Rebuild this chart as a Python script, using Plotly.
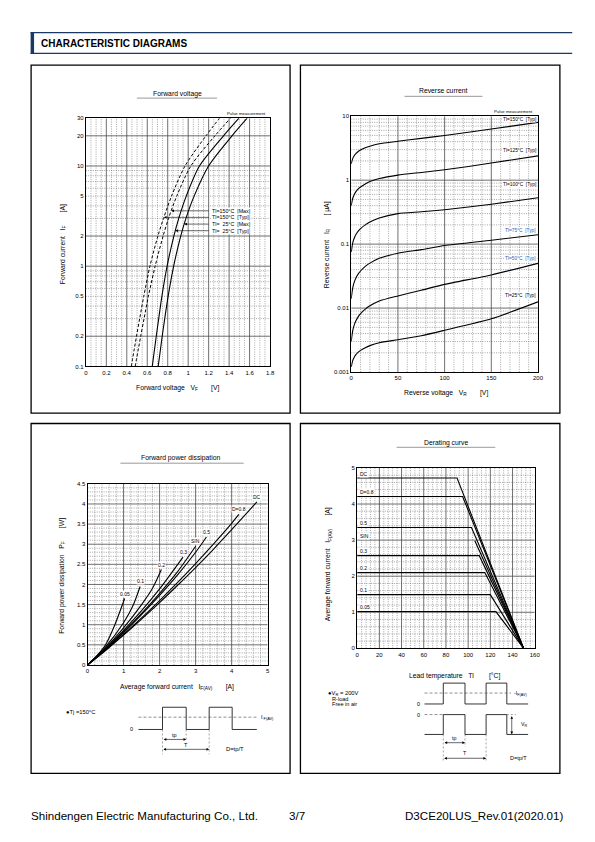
import numpy as np
import plotly.graph_objects as go

W, H = 595, 842
FONT = "Liberation Sans"
NAVY = "#1b3a63"

# ---------------- data ----------------
# Forward voltage: forward current IF [A] vs forward voltage VF [V]
fv_current = [0.1, 0.2, 0.3, 0.5, 1, 2, 3, 5, 10, 20, 30]
fv_150_typ = [0.444, 0.495, 0.526, 0.566, 0.626, 0.704, 0.759, 0.837, 0.969, 1.174, 1.306]
fv_150_max = [0.482, 0.536, 0.569, 0.611, 0.677, 0.755, 0.808, 0.888, 1.026, 1.261, 1.414]
fv_25_typ = [0.649, 0.688, 0.712, 0.743, 0.794, 0.860, 0.908, 0.981, 1.110, 1.345, 1.496]
fv_25_max = [0.707, 0.746, 0.771, 0.804, 0.858, 0.927, 0.978, 1.058, 1.199, 1.428, 1.576]
fv_labels = ["Tl=150°C  [Max]", "Tl=150°C  [Typ]", "Tl=  25°C  [Max]", "Tl=  25°C  [Typ]"]
fv_label_current = [3.57, 3.07, 2.63, 2.26]
fv_xticks = [0, 0.2, 0.4, 0.6, 0.8, 1.0, 1.2, 1.4, 1.6, 1.8]
fv_xticktext = ["0", "0.2", "0.4", "0.6", "0.8", "1", "1.2", "1.4", "1.6", "1.8"]
fv_yticks = [0.1, 0.2, 0.5, 1, 2, 5, 10, 20, 30]
fv_yticktext = ["0.1", "0.2", "0.5", "1", "2", "5", "10", "20", "30"]

# Reverse current: IR [uA] vs VR [V]
rc_voltage = [0, 1, 2, 3.5, 5, 7.5, 10, 15, 20, 30, 50, 75, 100, 150, 200]
rc_150 = [1.8, 2.05, 2.25, 2.45, 2.6, 2.8, 2.95, 3.2, 3.4, 3.7, 4.05, 4.5, 5.0, 6.3, 8.0]
rc_125 = [0.4, 0.48, 0.54, 0.61, 0.66, 0.73, 0.78, 0.87, 0.95, 1.06, 1.2, 1.32, 1.45, 1.85, 2.4]
rc_100 = [0.075, 0.094, 0.11, 0.127, 0.141, 0.16, 0.175, 0.2, 0.222, 0.257, 0.30, 0.32, 0.345, 0.42, 0.53]
rc_75 = [0.014, 0.0182, 0.022, 0.0261, 0.0295, 0.0342, 0.038, 0.0448, 0.0505, 0.060, 0.072, 0.082, 0.095, 0.115, 0.14]
rc_50 = [0.003, 0.00392, 0.00472, 0.00561, 0.00633, 0.00734, 0.00818, 0.00962, 0.01086, 0.0129, 0.0155, 0.019, 0.0235, 0.033, 0.05]
rc_25 = [0.0012, 0.00141, 0.00157, 0.00174, 0.00187, 0.00205, 0.00218, 0.0024, 0.00259, 0.00287, 0.0032, 0.0037, 0.0045, 0.0068, 0.0125]
rc_labels = ["Tl=150°C  [Typ]", "Tl=125°C  [Typ]", "Tl=100°C  [Typ]",
             "Tl=75°C  [Typ]", "Tl=50°C  [Typ]", "Tl=25°C  [Typ]"]
rc_xticks = [0, 50, 100, 150, 200]
rc_yticks = [0.001, 0.01, 0.1, 1, 10]
rc_yticktext = ["0.001", "0.01", "0.1", "1", "10"]

# Forward power dissipation: PF [W] vs IF(AV) [A]
pd_labels = ["0.05", "0.1", "0.2", "0.3", "SIN", "0.5", "D=0.8", "DC"]
pd_i_005 = [0, 0.25, 0.5, 0.75, 1.03]
pd_p_005 = [0, 0.22, 0.5, 0.98, 1.65]
pd_i_01 = [0, 0.5, 1, 1.25, 1.46]
pd_p_01 = [0, 0.45, 1.05, 1.45, 1.95]
pd_i_02 = [0, 0.5, 1, 1.5, 1.8, 2.05]
pd_p_02 = [0, 0.42, 0.92, 1.5, 1.9, 2.37]
pd_i_03 = [0, 0.5, 1, 1.5, 2, 2.65]
pd_p_03 = [0, 0.4, 0.86, 1.35, 1.89, 2.68]
pd_i_sin = [0, 0.5, 1, 1.5, 2, 2.5, 3]
pd_p_sin = [0, 0.39, 0.82, 1.28, 1.78, 2.32, 2.95]
pd_i_05 = [0, 0.5, 1, 1.5, 2, 2.5, 3, 3.3]
pd_p_05 = [0, 0.38, 0.8, 1.25, 1.73, 2.24, 2.8, 3.18]
pd_i_08 = [0, 0.5, 1, 1.5, 2, 2.5, 3, 3.5, 4, 4.2]
pd_p_08 = [0, 0.37, 0.76, 1.17, 1.60, 2.05, 2.52, 3.01, 3.52, 3.74]
pd_i_dc = [0, 0.5, 1, 1.5, 2, 2.5, 3, 3.5, 4, 4.7]
pd_p_dc = [0, 0.36, 0.74, 1.14, 1.55, 1.98, 2.42, 2.88, 3.36, 4.05]
pd_xticks = [0, 1, 2, 3, 4, 5]
pd_yticks = [0, 0.5, 1, 1.5, 2, 2.5, 3, 3.5, 4, 4.5]
pd_yticktext = ["0", "0.5", "1", "1.5", "2", "2.5", "3", "3.5", "4", "4.5"]

# Derating curve: IF(AV) [A] vs lead temperature Tl [°C]
dr_labels = ["DC", "D=0.8", "0.5", "SIN", "0.3", "0.2", "0.1", "0.05"]
dr_level = [4.72, 4.21, 3.35, 2.98, 2.57, 2.10, 1.49, 1.02]
dr_knee = [90, 95, 103, 106, 110, 115, 120, 125]
dr_flat_drawn = [True, True, True, False, True, True, True, True]
dr_zero_temp = 150
dr_xticks = [0, 20, 40, 60, 80, 100, 120, 140, 160]
dr_yticks = [0, 1, 2, 3, 4, 5]


# ---------------- helpers ----------------
def PX(x):
    return x / W


def PY(y):
    return 1 - y / H


fig = go.Figure()
annotations = []
shapes = []


def grid(xa, ya, xs, ys, xr, yr, major):
    x, y = [], []
    for v in xs:
        x += [v, v, None]
        y += [yr[0], yr[1], None]
    for v in ys:
        x += [xr[0], xr[1], None]
        y += [v, v, None]
    if major:
        st = dict(color="#4a4a4a", width=0.8)
    else:
        st = dict(color="#6a6a6a", width=0.6, dash="1px,1.3px")
    fig.add_trace(go.Scatter(x=x, y=y, mode="lines", line=st, xaxis=xa, yaxis=ya,
                             hoverinfo="skip", showlegend=False))


def curve(xa, ya, x, y, dash=None, shape="spline", width=1.1, smoothing=0.8):
    ln = dict(color="black", width=width, shape=shape)
    if shape == "spline":
        ln["smoothing"] = smoothing
    if dash:
        ln["dash"] = dash
    fig.add_trace(go.Scatter(x=x, y=y, mode="lines", line=ln, xaxis=xa, yaxis=ya,
                             hoverinfo="skip", showlegend=False))


def text(x, y, s, size=6, xanchor="center", yanchor="middle", angle=0, bold=False,
         color="black", bg=None):
    a = dict(x=PX(x), y=PY(y), xref="paper", yref="paper", text=("<b>%s</b>" % s if bold else s),
             showarrow=False, xanchor=xanchor, yanchor=yanchor, textangle=angle,
             font=dict(family=FONT, size=size, color=color))
    if bg:
        a["bgcolor"] = bg
        a["borderpad"] = 0
    annotations.append(a)


def line(x0, y0, x1, y1, width=0.8, dash=None, color="black"):
    ln = dict(color=color, width=width)
    if dash:
        ln["dash"] = dash
    shapes.append(dict(type="line", xref="paper", yref="paper", x0=PX(x0), y0=PY(y0),
                       x1=PX(x1), y1=PY(y1), line=ln))


def path(pts, width=0.8, color="black"):
    d = "M " + " L ".join("%.5f,%.5f" % (PX(a), PY(b)) for a, b in pts)
    shapes.append(dict(type="path", xref="paper", yref="paper", path=d,
                       line=dict(color=color, width=width)))


def arrow(x0, y0, x1, y1, both=True):
    # arrow head at (x1, y1), tail at (x0, y0) in page pixels
    annotations.append(dict(x=PX(x1), y=PY(y1), xref="paper", yref="paper", text="",
                            showarrow=True, ax=x0 - x1, ay=y0 - y1, arrowhead=2,
                            arrowsize=0.9, arrowwidth=0.6, arrowcolor="black",
                            arrowside="end+start" if both else "end", standoff=0,
                            startstandoff=0))


def axis(domain, rng, tickvals, ticktext, anchor, log=False):
    d = dict(domain=domain, range=rng, tickmode="array", tickvals=tickvals,
             ticktext=ticktext, anchor=anchor, showline=True, linecolor="black",
             linewidth=1, mirror=True, showgrid=False, zeroline=False, ticks="",
             tickfont=dict(family=FONT, size=6, color="black"), fixedrange=True)
    if log:
        d["type"] = "log"
    return d


# ---------------- chart 1: forward voltage ----------------
maj_x = [0.2, 0.4, 0.6, 0.8, 1.0, 1.2, 1.4, 1.6]
min_x = [round(i * 0.05, 3) for i in range(1, 36) if i % 4]
maj_y = [0.2, 1, 2, 10, 20]
min_y = [m * 10 ** e for e in (-1, 0, 1) for m in (3, 4, 5, 6, 7, 8, 9) if m * 10 ** e < 30]
grid("x", "y", min_x, min_y, [0, 1.8], [0.1, 30], False)
grid("x", "y", maj_x, maj_y, [0, 1.8], [0.1, 30], True)
curve("x", "y", fv_150_typ, fv_current, dash="3px,2px", width=1.0)
curve("x", "y", fv_150_max, fv_current, dash="3px,2px", width=1.0)
curve("x", "y", fv_25_typ, fv_current)
curve("x", "y", fv_25_max, fv_current)

fv_curves = [fv_150_max, fv_150_typ, fv_25_max, fv_25_typ]
lc = np.log10(fv_current)
for lab, cur, vf in zip(fv_labels, fv_label_current, fv_curves):
    head = float(np.interp(np.log10(cur), lc, vf))
    annotations.append(dict(x=head, y=float(np.log10(cur)), xref="x", yref="y", axref="x",
                            ayref="y", ax=1.215, ay=float(np.log10(cur)), text="",
                            showarrow=True, arrowhead=2, arrowsize=0.9, arrowwidth=0.6,
                            arrowcolor="black", standoff=0))
    annotations.append(dict(x=1.222, y=float(np.log10(cur)), xref="x", yref="y", text=lab,
                            showarrow=False, xanchor="left", yanchor="middle",
                            font=dict(family=FONT, size=5.3, color="black"),
                            bgcolor="white", borderpad=0))

# ---------------- chart 2: reverse current ----------------
grid("x2", "y2", [v for v in range(10, 200, 10) if v % 50],
     [m * 10 ** e for e in range(-3, 1) for m in range(2, 10)], [0, 200], [0.001, 10], False)
grid("x2", "y2", [50, 100, 150], [0.01, 0.1, 1], [0, 200], [0.001, 10], True)
for ser in (rc_150, rc_125, rc_100, rc_75, rc_50, rc_25):
    curve("x2", "y2", rc_voltage, ser, smoothing=0.6)

# ---------------- chart 3: forward power dissipation ----------------
grid("x3", "y3", [round(i * 0.2, 2) for i in range(1, 25) if i % 5],
     [round(i * 0.1, 2) for i in range(1, 45) if i % 5], [0, 5], [0, 4.5], False)
grid("x3", "y3", [1, 2, 3, 4], [0.5, 1, 1.5, 2, 2.5, 3, 3.5, 4], [0, 5], [0, 4.5], True)
pd_series = [(pd_i_005, pd_p_005), (pd_i_01, pd_p_01), (pd_i_02, pd_p_02), (pd_i_03, pd_p_03),
             (pd_i_sin, pd_p_sin), (pd_i_05, pd_p_05), (pd_i_08, pd_p_08), (pd_i_dc, pd_p_dc)]
for lab, (xi, yp) in zip(pd_labels, pd_series):
    curve("x3", "y3", xi, yp)
    annotations.append(dict(x=xi[-1], y=yp[-1], xref="x3", yref="y3", text=lab,
                            showarrow=False, xanchor="center", yanchor="bottom", yshift=1,
                            font=dict(family=FONT, size=5, color="black"),
                            bgcolor="white", borderpad=0))

# ---------------- chart 4: derating ----------------
grid("x4", "y4", [v for v in range(4, 160, 4) if v % 20],
     [round(i * 0.2, 2) for i in range(1, 25) if i % 5], [0, 160], [0, 5], False)
grid("x4", "y4", [20, 40, 60, 80, 100, 120, 140], [1, 2, 3, 4], [0, 160], [0, 5], True)
for lab, lev, kn, flat in zip(dr_labels, dr_level, dr_knee, dr_flat_drawn):
    if flat:
        curve("x4", "y4", [0, kn, dr_zero_temp], [lev, lev, 0], shape="linear")
    else:
        curve("x4", "y4", [kn, dr_zero_temp], [lev, 0], shape="linear")
    annotations.append(dict(x=1.5, y=lev, xref="x4", yref="y4", text=lab, showarrow=False,
                            xanchor="left", yanchor="bottom", yshift=0.5,
                            font=dict(family=FONT, size=5, color="black"),
                            bgcolor="white", borderpad=0))

# ---------------- axes ----------------
fig.update_layout(
    xaxis=axis([PX(85), PX(271.7)], [0, 1.8], fv_xticks, fv_xticktext, "y"),
    yaxis=axis([PY(366), PY(116)], [-1, float(np.log10(30))], fv_yticks, fv_yticktext, "x", log=True),
    xaxis2=axis([PX(354), PX(543.3)], [0, 200], rc_xticks, [str(v) for v in rc_xticks], "y2"),
    yaxis2=axis([PY(371.7), PY(114)], [-3, 1], rc_yticks, rc_yticktext, "x2", log=True),
    xaxis3=axis([PX(86.7), PX(269.3)], [0, 5], pd_xticks, [str(v) for v in pd_xticks], "y3"),
    yaxis3=axis([PY(666.7), PY(484.3)], [0, 4.5], pd_yticks, pd_yticktext, "x3"),
    xaxis4=axis([PX(360), PX(540)], [0, 160], dr_xticks, [str(v) for v in dr_xticks], "y4"),
    yaxis4=axis([PY(650), PY(468.3)], [0, 5], dr_yticks, [str(v) for v in dr_yticks], "x4"),
)

# ---------------- page decoration ----------------
# header
line(29, 29.8, 578, 29.8, width=1.3, color=NAVY)
line(29, 50.8, 578, 50.8, width=1.3, color=NAVY)
shapes.append(dict(type="rect", xref="paper", yref="paper", x0=PX(29), x1=PX(32.5),
                   y0=PY(51.4), y1=PY(29.2), fillcolor=NAVY, line=dict(width=0)))
text(38, 40.3, "CHARACTERISTIC DIAGRAMS", size=10, xanchor="left", bold=True)

# panel boxes
for (x0, y0, x1, y1) in [(29.5, 62.5, 292, 413), (302.5, 62.5, 565.5, 413),
                         (29.5, 423.5, 292, 776), (302.5, 423.5, 565.5, 776)]:
    shapes.append(dict(type="rect", xref="paper", yref="paper", x0=PX(x0), x1=PX(x1),
                       y0=PY(y1), y1=PY(y0), line=dict(color="black", width=1.3)))

# titles with underline
for (tx, ty, s, u0, u1, uy) in [(177.7, 91.5, "Forward voltage", 136.7, 218, 95.8),
                                (446.7, 88.3, "Reverse current", 408, 487, 94),
                                (181.7, 458.3, "Forward power dissipation", 120, 245, 463.5),
                                (450, 443.0, "Derating curve", 400, 500, 447.5)]:
    text(tx, ty, s, size=6.8)
    line(u0, uy, u1, uy, width=0.6, color="#555555")

# axis titles
text(178, 388, "Forward voltage   V<sub>F</sub>       [V]", size=6.8)
text(61.7, 243, "Forward current   I<sub>F</sub>       [A]", size=6.8, angle=-90)
text(450, 392.7, "Reverse voltage   V<sub>R</sub>       [V]", size=6.8)
text(329.3, 243, "Reverse current   I<sub>R</sub>       [ μA]", size=6.8, angle=-90)
text(177.5, 689.3, "Average forward current   I<sub>F(AV)</sub>       [A]", size=6.8)
text(60, 576.7, "Forward power dissipation   P<sub>F</sub>       [W]", size=6.8, angle=-90)
text(459, 677.7, "Lead temperature   Tl        [°C]", size=6.8)
text(330.7, 565, "Average forward current   I<sub>F(AV)</sub>       [A]", size=6.8, angle=-90)

# pulse measurement notes
text(248.3, 111.7, "Pulse measurement", size=4.3)
text(518.3, 109.3, "Pulse measurement", size=4.3)

# reverse current labels
rc_label_y = [117.3, 148.3, 182.7, 229.3, 257.3, 295]
rc_label_col = ["black", "black", "black", "#2f62b0", "#2f62b0", "black"]
for lab, yy, col in zip(rc_labels, rc_label_y, rc_label_col):
    text(542.5, yy, lab, size=4.8, xanchor="right", color=col, bg="white")

# ---- forward power dissipation waveform ----
text(63.3, 714, "●Tj =150°C", size=5.8, xanchor="left")
text(135, 731.7, "0", size=5.5, xanchor="right")
path([(138.3, 731.7), (162.7, 731.7), (162.7, 709.3), (186.7, 709.3), (186.7, 731.7),
      (210, 731.7), (210, 709.3), (233.3, 709.3), (233.3, 731.7), (258.3, 731.7)], width=0.8)
line(138.3, 719.3, 258.3, 719.3, width=0.6, dash="3px,2px", color="#444")
text(260, 719.5, "I<sub> F(AV)</sub>", size=5.5, xanchor="left")
line(162.7, 731.7, 162.7, 756.7, width=0.5, dash="2px,2px", color="#444")
line(186.7, 731.7, 186.7, 744, width=0.5, dash="2px,2px", color="#444")
line(210, 731.7, 210, 756.7, width=0.5, dash="2px,2px", color="#444")
arrow(162.7, 741.7, 186.7, 741.7)
text(174.5, 737.2, "tp", size=5.5)
arrow(162.7, 751.7, 210, 751.7)
text(186.3, 747.3, "T", size=5.5)
text(225, 751.7, "D=tp/T", size=5.8, xanchor="left")

# ---- derating waveform ----
text(328.3, 695, "●V<sub>R</sub> = 200V", size=5.8, xanchor="left")
text(332.3, 700.9, "R-load", size=5.6, xanchor="left")
text(332.3, 706.4, "Free in air", size=5.6, xanchor="left")
text(425.5, 706, "0", size=5.5, xanchor="right")
path([(428.3, 706), (447.3, 706), (447.3, 685), (469.3, 685), (469.3, 706), (490.7, 706),
      (490.7, 685), (511.7, 685), (511.7, 706), (533.3, 706)], width=0.8)
line(428.3, 695, 516, 695, width=0.6, dash="3px,2px", color="#444")
text(517, 695, "-I<sub>F(AV)</sub>", size=5.3, xanchor="left")
text(425.5, 716.7, "0", size=5.5, xanchor="right")
line(428.3, 716.7, 447.3, 716.7, width=0.6, dash="3px,2px", color="#444")
path([(428.3, 736.7), (447.3, 736.7), (447.3, 716.7), (469.3, 716.7), (469.3, 736.7),
      (490.7, 736.7), (490.7, 716.7), (511.7, 716.7), (511.7, 736.7), (533.3, 736.7)], width=0.8)
line(511.7, 716.7, 521, 716.7, width=0.5, dash="2px,2px", color="#444")
arrow(516.7, 716.9, 516.7, 736.5)
text(524, 726.7, "V<sub>R</sub>", size=5.3, xanchor="left")
line(447.3, 736.7, 447.3, 764, width=0.5, dash="2px,2px", color="#444")
line(469.3, 736.7, 469.3, 749, width=0.5, dash="2px,2px", color="#444")
line(490.7, 736.7, 490.7, 764, width=0.5, dash="2px,2px", color="#444")
arrow(447.3, 745, 469.3, 745)
text(458.5, 740.5, "tp", size=5.3)
arrow(447.3, 760.7, 490.7, 760.7)
text(469.5, 755.8, "T", size=5.3)
text(513, 760.7, "D=tp/T", size=5.5, xanchor="left")

# footer
text(27, 818, "Shindengen Electric Manufacturing Co., Ltd.", size=11.6, xanchor="left")
text(299, 818, "3/7", size=11.6)
text(571, 818, "D3CE20LUS_Rev.01(2020.01)", size=11.6, xanchor="right")

fig.update_layout(
    width=W, height=H, autosize=False,
    margin=dict(l=0, r=0, t=0, b=0, pad=0),
    paper_bgcolor="white", plot_bgcolor="white",
    showlegend=False,
    annotations=annotations, shapes=shapes,
    font=dict(family=FONT, color="black"),
)

fig.write_html("out.html", config={"displayModeBar": False, "staticPlot": True},
               post_script="document.body.style.margin='0';document.body.style.padding='0';")
